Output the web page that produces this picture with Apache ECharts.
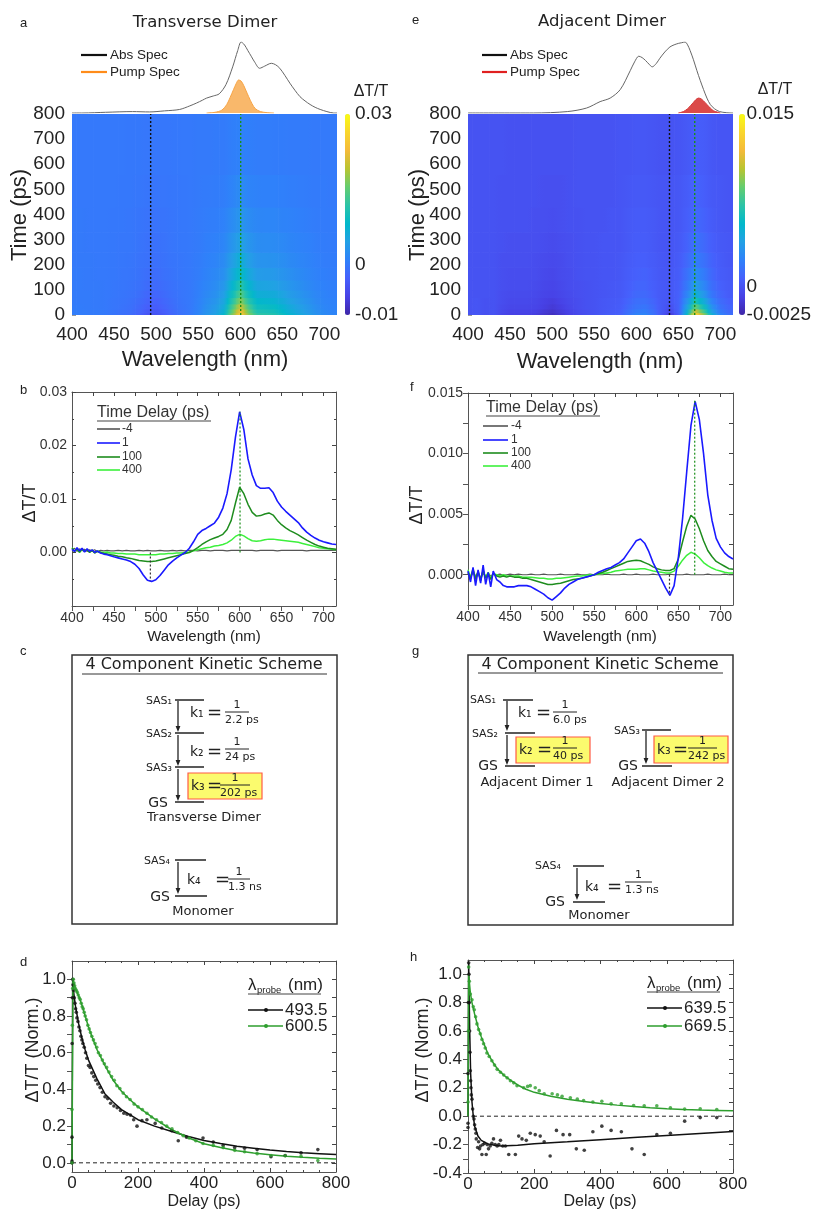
<!DOCTYPE html>
<html><head><meta charset="utf-8">
<script src="https://cdn.jsdelivr.net/npm/echarts@6/dist/echarts.min.js"></script>
<style>html,body{margin:0;padding:0;background:#fff}#c{width:814px;height:1211px}</style>
</head><body><div id="c"></div>
<script>
// ---------------- DATA ----------------
const hmWlEdges = [400,405,415,425,435,445,455,465,475,485,495,505,515,525,535,545,555,565,575,585,595,605,615,625,635,645,655,665,675,685,695,705,715];
const hmTimeEdges = [0,10,25,45,70,100,140,190,250,330,430,560,800];
const hmWlTicks = [400,450,500,550,600,650,700];
// Transverse dimer dT/T map (x1e-3), rows = time bins (bottom to top), cols = wavelength bins
const hmA = [
[0.5,0.5,0.3,0.2,0,-0.5,-1,-1.4,-2.6,-4.2,-4.4,-3.2,-1.8,-0.7,0,1.5,3.4,4.8,7.8,16.5,25,16.5,12,11.6,11,9.2,7.3,5.8,4.4,2.9,1.9,1.4],
[0.5,0.4,0.3,0.2,0,-0.4,-0.8,-1.2,-2.2,-3.6,-3.8,-2.8,-1.6,-0.6,0,1.3,3,4.3,7,15,23,15,10.6,10.3,9.8,8.2,6.5,5.2,3.9,2.6,1.7,1.3],
[0.4,0.4,0.2,0.1,0,-0.3,-0.6,-1,-1.8,-2.9,-3.1,-2.2,-1.3,-0.5,0,1.1,2.7,3.8,6.2,13.3,20.3,13.3,9.4,9.1,8.7,7.3,5.8,4.6,3.5,2.3,1.5,1.1],
[0.3,0.3,0.2,0.1,0,-0.3,-0.5,-0.8,-1.5,-2.4,-2.6,-1.9,-1.1,-0.4,0,1,2.3,3.3,5.3,11.2,17,11.2,8,7.7,7.3,6.1,4.8,3.9,2.9,1.9,1.3,1],
[0.3,0.3,0.2,0.1,0,-0.2,-0.4,-0.6,-1.2,-2,-2.1,-1.5,-0.9,-0.3,0,0.8,1.9,2.7,4.4,9.4,14.3,9.4,6.6,6.4,6.1,5.1,4,3.2,2.4,1.6,1.1,0.8],
[0.2,0.2,0.1,0.1,0,-0.2,-0.3,-0.5,-0.9,-1.5,-1.6,-1.2,-0.7,-0.3,0,0.7,1.5,2.2,3.5,7.5,11.4,7.5,5.3,5.1,4.8,4,3.2,2.6,1.9,1.3,0.9,0.7],
[0.2,0.2,0.1,0,0,-0.1,-0.3,-0.4,-0.7,-1.2,-1.3,-0.9,-0.5,-0.2,0,0.5,1.2,1.7,2.7,5.8,8.8,5.8,4.1,3.9,3.7,3.1,2.5,2,1.5,1,0.7,0.5],
[0.1,0.1,0.1,0,0,-0.1,-0.2,-0.3,-0.6,-0.9,-1,-0.7,-0.4,-0.2,0,0.4,0.9,1.3,2.1,4.4,6.8,4.4,3.1,3,2.9,2.4,1.9,1.5,1.2,0.8,0.5,0.4],
[0.1,0.1,0,0,0,-0.1,-0.2,-0.2,-0.5,-0.8,-0.8,-0.6,-0.3,-0.1,0,0.3,0.7,0.9,1.5,3.2,4.9,3.2,2.3,2.2,2.1,1.8,1.4,1.1,0.9,0.6,0.4,0.3],
[0.1,0.1,0,0,0,-0.1,-0.1,-0.2,-0.4,-0.6,-0.6,-0.5,-0.3,-0.1,0,0.2,0.5,0.6,1,2.2,3.4,2.2,1.6,1.5,1.5,1.2,1,0.8,0.6,0.4,0.3,0.2],
[0,0,0,0,0,0,-0.1,-0.1,-0.2,-0.4,-0.4,-0.3,-0.2,-0.1,0,0.1,0.3,0.4,0.6,1.3,2.1,1.3,1,0.9,0.9,0.8,0.6,0.5,0.4,0.2,0.2,0.1],
[0,0,0,0,0,0,0,-0.1,-0.1,-0.2,-0.2,-0.2,-0.1,0,0,0.1,0.1,0.2,0.3,0.7,1,0.7,0.5,0.5,0.4,0.4,0.3,0.2,0.2,0.1,0.1,0.1]
];
// Adjacent dimer dT/T map (x1e-3)
const hmE = [
[0,0.2,-0.2,0,-0.6,-0.9,-0.9,-0.9,-1.1,-1.5,-1.9,-1.4,-0.9,-0.5,-0.2,0,0.3,0.5,0.7,1.6,2.4,2.5,1.6,0.2,-1.2,0.6,5.6,13.2,9.3,4.7,2.3,1.4],
[0,0.1,-0.1,0,-0.5,-0.8,-0.8,-0.8,-0.9,-1.3,-1.6,-1.2,-0.8,-0.4,-0.2,0,0.2,0.4,0.6,1.4,2,2.1,1.4,0.3,-0.6,0.8,4.8,10.8,7.6,3.8,1.9,1.1],
[0,0.1,-0.1,0,-0.4,-0.6,-0.6,-0.6,-0.7,-1,-1.3,-1,-0.6,-0.3,-0.1,0,0.2,0.3,0.5,1.1,1.6,1.7,1.1,0.3,-0.2,0.8,4,8.5,6,3,1.5,0.9],
[0,0.1,-0.1,0,-0.3,-0.5,-0.5,-0.5,-0.6,-0.9,-1.1,-0.8,-0.5,-0.3,-0.1,0,0.2,0.3,0.4,0.9,1.4,1.4,0.9,0.3,0.1,0.8,3.2,6.5,4.6,2.3,1.2,0.7],
[0,0,0,0,-0.3,-0.4,-0.4,-0.4,-0.5,-0.7,-0.8,-0.6,-0.4,-0.2,-0.1,0,0.1,0.2,0.3,0.7,1.1,1.1,0.7,0.3,0.2,0.7,2.5,4.8,3.4,1.7,0.9,0.5],
[0,0,0,0,-0.2,-0.3,-0.3,-0.3,-0.4,-0.6,-0.7,-0.5,-0.3,-0.2,-0.1,0,0.1,0.2,0.3,0.6,0.9,0.9,0.6,0.3,0.2,0.6,1.9,3.7,2.6,1.3,0.7,0.4],
[0,0,0,0,-0.2,-0.3,-0.3,-0.3,-0.3,-0.5,-0.6,-0.4,-0.3,-0.1,0,0,0.1,0.1,0.2,0.5,0.7,0.8,0.5,0.2,0.2,0.5,1.5,2.8,2,1,0.5,0.3],
[0,0,0,0,-0.2,-0.2,-0.2,-0.2,-0.3,-0.4,-0.5,-0.4,-0.2,-0.1,0,0,0.1,0.1,0.2,0.4,0.6,0.6,0.4,0.2,0.1,0.4,1.1,2.1,1.5,0.8,0.4,0.2],
[0,0,0,0,-0.1,-0.2,-0.2,-0.2,-0.2,-0.3,-0.4,-0.3,-0.2,-0.1,0,0,0.1,0.1,0.1,0.3,0.5,0.5,0.3,0.1,0.1,0.3,0.8,1.6,1.1,0.6,0.3,0.2],
[0,0,0,0,-0.1,-0.1,-0.1,-0.1,-0.2,-0.2,-0.3,-0.2,-0.1,-0.1,0,0,0,0.1,0.1,0.3,0.4,0.4,0.3,0.1,0.1,0.2,0.6,1.1,0.8,0.4,0.2,0.1],
[0,0,0,0,-0.1,-0.1,-0.1,-0.1,-0.1,-0.2,-0.2,-0.2,-0.1,0,0,0,0,0,0.1,0.2,0.3,0.3,0.2,0.1,0.1,0.2,0.5,0.9,0.6,0.3,0.2,0.1],
[0,0,0,0,0,-0.1,-0.1,-0.1,-0.1,-0.1,-0.1,-0.1,-0.1,0,0,0,0,0,0.1,0.1,0.2,0.2,0.1,0,0,0.1,0.3,0.6,0.5,0.2,0.1,0.1]
];
const probeA = [493.5, 600.5];
const probeE = [639.5, 669.5];

// absorption / pump spectra (normalised)
const absAWl  = [400,413,440,472,492,510,528,540,548,555,560,568,575,583,591,597,601,605,609,613,617,623,629,637,642,647,653,659,665,671,677,683,689,695,703,711,715];
const absAVal = [0,0,0.01,0.02,0.015,0.03,0.05,0.1,0.14,0.18,0.21,0.24,0.27,0.4,0.65,0.88,1.0,0.96,0.88,0.8,0.72,0.63,0.66,0.70,0.68,0.63,0.53,0.42,0.32,0.23,0.17,0.12,0.08,0.05,0.02,0.0,0.0];
const pumpAWl  = [560,570,578,584,588,592,595,598,601,604,607,610,614,618,624,632,640];
const pumpAVal = [0,0.01,0.04,0.12,0.22,0.33,0.41,0.465,0.45,0.39,0.31,0.23,0.13,0.06,0.02,0.005,0];
const absEWl  = [400,478,518,541,557,569,581,593,598,603,607,611,615,619,624,628,634,640,645,650,654,658,661,664,668,672,676,680,684,688,693,699,707,715];
const absEVal = [0,0,0.02,0.07,0.16,0.21,0.33,0.6,0.72,0.8,0.78,0.74,0.69,0.65,0.7,0.77,0.86,0.93,0.96,0.98,0.99,1.0,0.96,0.88,0.75,0.6,0.46,0.33,0.21,0.12,0.06,0.02,0.005,0];
const pumpEWl  = [650,656,661,665,668,671,674,677,680,684,688,692,697,700];
const pumpEVal = [0,0.02,0.06,0.11,0.15,0.19,0.21,0.2,0.17,0.12,0.07,0.03,0.01,0];

// transient spectra (x1e-3)
const specWl = [400,403,406,409,412,415,418,421,424,427,430,434,438,442,446,450,455,460,465,470,475,480,485,490,495,500,505,510,515,520,525,530,535,540,545,550,555,560,565,570,575,580,585,590,595,600,605,610,615,620,625,630,635,640,645,650,655,660,665,670,675,680,685,690,695,700,705,710,715];
const specTicks = [400,450,500,550,600,650,700];
const delays = ['-4','1','100','400'];
const bM4  = [0.5,0.8,0.2,0.7,0.3,0.6,0.2,0.5,0.3,0.5,0.2,0.4,0.3,0.4,0.3,0.3,0.4,0.3,0.4,0.3,0.3,0.4,0.3,0.4,0.3,0.3,0.4,0.3,0.3,0.4,0.3,0.4,0.3,0.4,0.4,0.3,0.4,0.4,0.3,0.4,0.4,0.4,0.3,0.4,0.4,0.4,0.4,0.4,0.4,0.3,0.4,0.4,0.4,0.4,0.3,0.4,0.4,0.4,0.4,0.4,0.4,0.3,0.4,0.4,0.4,0.4,0.4,0.4,0.4];
const b1   = [0.6,0.2,0.9,0.3,0.8,0.1,0.7,0.2,0.5,0.0,0.3,-0.1,-0.3,-0.4,-0.6,-0.8,-1.0,-1.2,-1.4,-1.7,-2.2,-3.0,-4.2,-5.2,-5.4,-5.1,-4.3,-3.3,-2.3,-1.6,-1.0,-0.5,0.0,0.8,2.0,3.4,4.1,4.5,5.0,5.5,6.6,8.3,11.0,15.5,21.5,26.3,23.0,17.5,14.5,12.5,12.0,12.0,12.1,11.2,9.6,8.5,7.7,7.0,6.3,5.6,4.6,3.8,3.2,2.7,2.3,2.0,1.8,1.6,1.5];
const b100 = [0.8,0.3,0.6,0.1,0.7,0.2,0.5,0.0,0.4,-0.1,0.2,0.0,-0.2,-0.3,-0.4,-0.5,-0.7,-0.8,-1.0,-1.1,-1.3,-1.5,-1.6,-1.7,-1.7,-1.6,-1.4,-1.2,-1.0,-0.8,-0.6,-0.4,-0.2,0.0,0.4,0.9,1.5,2.0,2.4,2.7,3.0,3.4,4.3,6.0,9.2,12.2,11.0,9.0,7.5,6.8,6.9,7.2,7.4,7.0,6.0,5.2,4.6,4.1,3.7,3.3,2.8,2.3,1.9,1.5,1.2,1.0,0.8,0.7,0.6];
const b400 = [0.9,0.2,0.7,0.0,0.6,0.3,0.5,0.1,0.4,0.0,0.3,0.1,0.0,0.1,-0.1,-0.1,-0.2,-0.2,-0.3,-0.3,-0.3,-0.4,-0.4,-0.4,-0.4,-0.4,-0.3,-0.3,-0.2,-0.2,-0.1,-0.1,0.0,0.1,0.3,0.5,0.7,0.9,1.0,1.2,1.3,1.5,1.8,2.3,3.0,3.4,3.1,2.6,2.2,2.1,2.2,2.4,2.5,2.5,2.4,2.3,2.2,2.1,2.0,1.9,1.7,1.5,1.3,1.1,0.9,0.8,0.7,0.6,0.5];
const fM4  = [0.1,-0.2,0.2,-0.1,0.15,-0.2,0.1,-0.15,0.1,-0.1,0.05,0.0,0.05,-0.05,0.0,0.05,0.0,0.05,0.0,0.0,0.05,0.0,0.0,0.05,0.0,0.0,0.0,0.05,0.0,0.0,0.0,0.05,0.0,0.0,0.05,0.0,0.0,0.0,0.05,0.0,0.0,0.0,0.05,0.0,0.0,0.05,0.0,0.0,0.0,0.05,0.0,0.0,0.0,0.05,0.0,0.0,0.0,0.05,0.0,0.0,0.0,0.0,0.05,0.0,0.0,0.0,0.05,0.0,0.0];
const f1   = [0.3,-0.6,0.6,-0.9,0.4,-0.7,0.8,-0.8,0.2,-1.0,0.3,-0.4,-0.6,-0.9,-1.0,-1.0,-1.0,-0.9,-0.9,-0.9,-1.0,-1.2,-1.4,-1.6,-1.9,-2.1,-1.8,-1.5,-1.1,-0.8,-0.6,-0.4,-0.3,-0.2,-0.1,0.0,0.2,0.35,0.5,0.6,0.8,1.0,1.3,1.8,2.3,2.8,2.95,2.6,1.9,1.0,0.3,-0.4,-1.1,-1.7,-0.9,1.4,4.6,8.5,12.3,14.3,12.8,10.0,6.6,4.5,3.0,2.3,1.8,1.5,1.3];
const f100 = [0.2,-0.3,0.4,-0.4,0.3,-0.5,0.4,-0.3,0.1,-0.4,0.1,-0.1,-0.2,-0.1,-0.2,-0.1,-0.2,-0.2,-0.3,-0.3,-0.4,-0.5,-0.6,-0.7,-0.8,-0.8,-0.75,-0.7,-0.6,-0.5,-0.4,-0.35,-0.3,-0.2,-0.1,0.0,0.1,0.2,0.35,0.5,0.65,0.8,0.95,1.1,1.15,1.2,1.15,1.0,0.85,0.65,0.5,0.4,0.35,0.35,0.5,1.3,2.7,4.0,4.9,4.6,3.8,2.8,2.0,1.5,1.1,0.9,0.7,0.5,0.45];
const f400 = [0.4,-0.2,0.5,-0.3,0.2,-0.4,0.3,-0.2,0.2,-0.3,0.1,0.0,-0.1,0.0,-0.1,-0.1,-0.1,-0.1,-0.2,-0.2,-0.2,-0.25,-0.3,-0.3,-0.35,-0.35,-0.3,-0.3,-0.25,-0.2,-0.15,-0.1,-0.1,-0.05,0.0,0.0,0.05,0.1,0.15,0.2,0.3,0.35,0.4,0.45,0.45,0.45,0.5,0.5,0.4,0.3,0.25,0.2,0.15,0.15,0.3,0.7,1.2,1.6,1.85,1.7,1.4,1.0,0.75,0.55,0.4,0.3,0.2,0.15,0.15];
const bMarkEnds = [-5.3, 26.3];
const fMarkEnds = [-1.7, 14.4];

// kinetics (t ps, normalised dT/T)
const dBlackDots = [[0,0.0],[0,0.01],[0,0.14],[0.4,0.65],[1,0.9],[2,1.0],[3,0.97],[5,0.94],[7,0.9],[9,0.87],[11,0.84],[13,0.82],[15,0.79],[18,0.77],[21,0.74],[24,0.72],[27,0.69],[30,0.67],[33,0.65],[37,0.63],[41,0.6],[45,0.57],[50,0.53],[55,0.52],[60,0.49],[66,0.47],[72,0.45],[78,0.43],[85,0.41],[92,0.385],[100,0.36],[108,0.35],[117,0.325],[127,0.31],[137,0.3],[147,0.285],[157,0.27],[167,0.265],[177,0.26],[187,0.235],[197,0.2],[212,0.23],[227,0.235],[252,0.215],[272,0.19],[302,0.175],[322,0.12],[347,0.14],[397,0.135],[428,0.113],[458,0.094],[493,0.083],[523,0.08],[561,0.072],[603,0.033],[646,0.04],[694,0.054],[745,0.072]];
const dBlackFit = [[0,0],[2,1.0],[5,0.93],[10,0.86],[20,0.76],[30,0.68],[40,0.615],[50,0.56],[75,0.46],[100,0.375],[125,0.33],[150,0.29],[200,0.235],[250,0.2],[300,0.172],[350,0.145],[400,0.122],[450,0.105],[500,0.09],[550,0.08],[600,0.07],[650,0.062],[700,0.055],[750,0.05],[800,0.045]];
const dGreenDots = [[0,0.0],[0,0.29],[1,0.75],[2,0.95],[4,1.0],[6,0.98],[8,0.965],[10,0.95],[13,0.94],[16,0.93],[19,0.915],[22,0.9],[25,0.89],[28,0.87],[31,0.85],[34,0.84],[37,0.82],[40,0.8],[44,0.78],[48,0.75],[52,0.73],[56,0.71],[60,0.69],[65,0.67],[70,0.65],[75,0.63],[80,0.6],[86,0.585],[92,0.56],[98,0.54],[105,0.52],[112,0.495],[120,0.47],[128,0.45],[136,0.42],[145,0.405],[155,0.38],[165,0.36],[176,0.345],[188,0.32],[200,0.305],[213,0.29],[227,0.27],[241,0.25],[256,0.235],[271,0.22],[287,0.2],[303,0.185],[320,0.165],[337,0.148],[355,0.135],[375,0.12],[397,0.105],[428,0.095],[458,0.083],[493,0.068],[523,0.06],[561,0.05],[603,0.04],[646,0.038],[694,0.035],[745,0.012]];
const dGreenFit = [[0,0],[3,1.0],[10,0.95],[20,0.91],[30,0.86],[40,0.8],[50,0.74],[60,0.69],[75,0.62],[100,0.53],[125,0.45],[150,0.39],[175,0.345],[200,0.305],[250,0.24],[300,0.183],[350,0.138],[400,0.104],[450,0.083],[500,0.066],[550,0.054],[600,0.044],[650,0.036],[700,0.03],[750,0.025],[800,0.021]];
const hBlackDots = [[0,-0.05],[0,-0.08],[0,0.3],[1,0.8],[2,1.08],[3,1.0],[4,0.8],[5,0.6],[6,0.45],[7,0.32],[8,0.25],[9,0.2],[10,0.15],[12,0.12],[14,0.05],[16,0.0],[18,-0.02],[20,-0.06],[22,-0.09],[24,-0.12],[25,-0.16],[29,-0.22],[32,-0.18],[35,-0.23],[38,-0.21],[42,-0.27],[45,-0.2],[50,-0.19],[55,-0.27],[58,-0.2],[62,-0.23],[67,-0.21],[72,-0.19],[77,-0.16],[82,-0.2],[88,-0.21],[93,-0.2],[98,-0.17],[105,-0.21],[113,-0.21],[123,-0.27],[143,-0.27],[153,-0.14],[163,-0.16],[176,-0.17],[188,-0.12],[203,-0.13],[218,-0.14],[230,-0.18],[248,-0.28],[267,-0.1],[287,-0.13],[307,-0.13],[327,-0.23],[351,-0.24],[377,-0.11],[404,-0.07],[432,-0.1],[463,-0.11],[495,-0.23],[532,-0.27],[570,-0.13],[611,-0.12],[654,-0.035],[701,-0.01],[751,-0.01]];
const hBlackFit = [[0,0],[2,1.08],[5,0.62],[8,0.3],[12,0.1],[16,0.0],[20,-0.07],[30,-0.14],[40,-0.17],[60,-0.195],[80,-0.205],[100,-0.21],[150,-0.205],[200,-0.194],[300,-0.18],[400,-0.165],[500,-0.15],[600,-0.136],[700,-0.122],[800,-0.108]];
const hGreenDots = [[0,0.1],[1,0.6],[2,1.05],[4,0.95],[7,0.86],[12,0.82],[16,0.77],[19,0.75],[23,0.7],[27,0.65],[32,0.61],[37,0.58],[42,0.54],[47,0.51],[52,0.48],[57,0.445],[64,0.42],[72,0.39],[80,0.36],[88,0.33],[98,0.31],[108,0.29],[118,0.27],[128,0.25],[138,0.235],[148,0.215],[168,0.2],[180,0.21],[188,0.215],[203,0.2],[215,0.18],[230,0.158],[254,0.158],[270,0.15],[284,0.14],[309,0.13],[330,0.12],[349,0.11],[377,0.1],[404,0.105],[432,0.087],[463,0.087],[500,0.075],[532,0.073],[570,0.073],[611,0.06],[654,0.05],[701,0.052],[751,0.047]];
const hGreenFit = [[0,0],[2,1.0],[7,0.87],[12,0.8],[20,0.72],[30,0.63],[40,0.56],[50,0.5],[60,0.44],[75,0.38],[90,0.33],[110,0.285],[130,0.25],[150,0.22],[175,0.19],[200,0.168],[250,0.14],[300,0.12],[350,0.103],[400,0.09],[450,0.078],[500,0.068],[550,0.06],[600,0.053],[650,0.048],[700,0.044],[750,0.041],[800,0.038]];
const dProbe = ['493.5','600.5'];
const hProbe = ['639.5','669.5'];

// ---------------- STYLE ----------------
const FF = 'Liberation Sans, Arial, sans-serif';
const SF = 'DejaVu Sans, Verdana, sans-serif';
const parula = ['#3e26a8','#4741e5','#4660fc','#2f81fa','#23a0e5','#01b8ca','#2cc4a7','#64cd6f','#b9c431','#f4ba3a','#f9d62d','#f9fb15'];
const cDelay = ['#555555','#1a1aff','#1e8c1e','#3cf03c'];
const cKinGreen = '#2e9e2e';
const zip = (xs, ys, s=1) => xs.map((x,i)=>[x, ys[i]*s]);

// colour lookup matching the visualMap colour ramp (used for smooth in-cell gradients)
const parRGB = parula.map(h=>[parseInt(h.slice(1,3),16),parseInt(h.slice(3,5),16),parseInt(h.slice(5,7),16)]);
function rampColor(v,min,max){
  let f=(v-min)/(max-min); f=Math.max(0,Math.min(1,f));
  const p=f*(parRGB.length-1), i=Math.min(parRGB.length-2,Math.floor(p)), t=p-i;
  const c=parRGB[i].map((a,k)=>Math.round(a+(parRGB[i+1][k]-a)*t));
  return 'rgb('+c.join(',')+')';
}

// ---------------- AXES ----------------
const grids=[], xAxis=[], yAxis=[], series=[];
function grid(l,t,w,h){ grids.push({left:l,top:t,width:w,height:h}); return grids.length-1; }
const tickStyle = {color:'#444', width:1};
function frameAxes(g, xo, yo){
  const xi = xAxis.length;
  xAxis.push(Object.assign({type:'value', gridIndex:g, position:'bottom', splitLine:{show:false},
    axisLine:{show:true, onZero:false, lineStyle:{color:'#555',width:1}},
    axisTick:{inside:true,length:4,lineStyle:tickStyle}},xo));
  xAxis.push({type:'value', gridIndex:g, position:'top', min:xo.min, max:xo.max, interval:xo.interval, splitLine:{show:false},
    axisLine:{show:true, onZero:false, lineStyle:{color:'#555',width:1}}, axisLabel:{show:false},
    axisTick:Object.assign({}, xo.axisTick||{}, {inside:true,length:4,lineStyle:tickStyle}), minorTick: xo.minorTick});
  const yi = yAxis.length;
  yAxis.push(Object.assign({type:'value', gridIndex:g, position:'left', splitLine:{show:false},
    axisLine:{show:true, onZero:false, lineStyle:{color:'#555',width:1}},
    axisTick:{inside:true,length:4,lineStyle:tickStyle}},yo));
  yAxis.push({type:'value', gridIndex:g, position:'right', min:yo.min, max:yo.max, interval:yo.interval, splitLine:{show:false},
    axisLine:{show:true, onZero:false, lineStyle:{color:'#555',width:1}}, axisLabel:{show:false},
    axisTick:Object.assign({}, yo.axisTick||{}, {inside:true,length:4,lineStyle:tickStyle}), minorTick: yo.minorTick});
  return [xi, yi];
}
function hiddenAxes(g, xmin, xmax, ymin, ymax){
  const xi=xAxis.length, yi=yAxis.length;
  xAxis.push({type:'value', gridIndex:g, min:xmin, max:xmax, show:false});
  yAxis.push({type:'value', gridIndex:g, min:ymin, max:ymax, show:false});
  return [xi, yi];
}
function hmAxes(g){
  const xi=xAxis.length, yi=yAxis.length;
  xAxis.push({type:'value', gridIndex:g, min:400, max:715, splitLine:{show:false}, axisLine:{show:false},
    axisTick:{inside:true,length:4,customValues:hmWlTicks,lineStyle:{color:'rgba(0,0,0,0.4)'}},
    axisLabel:{customValues:hmWlTicks, fontSize:19, color:'#222', fontFamily:FF, margin:10}});
  yAxis.push({type:'value', gridIndex:g, min:0, max:800, interval:100, splitLine:{show:false}, axisLine:{show:false},
    axisTick:{inside:true,length:4,lineStyle:{color:'rgba(0,0,0,0.4)'}},
    axisLabel:{fontSize:19, color:'#222', fontFamily:FF, margin:7}});
  return [xi, yi];
}
function cbAxes(g, min, max, vals, labs){
  const xi=xAxis.length, yi=yAxis.length;
  xAxis.push({type:'value', gridIndex:g, min:0, max:1, show:false});
  yAxis.push({type:'value', gridIndex:g, position:'right', min, max, splitLine:{show:false}, axisLine:{show:false}, axisTick:{show:false},
    axisLabel:{customValues:vals, formatter:v=>labs[vals.indexOf(v)], fontSize:19, color:'#222', fontFamily:FF, margin:5}});
  return [xi, yi];
}

// ---------------- GRIDS ----------------
const gHmA = grid(72,114,265,201), gAbsA = grid(72,42,265,71), gCbA = grid(345,114,5,201);
const gB = grid(72,392,264,214), gD = grid(72,961,264,211);
const gHmE = grid(468,114,265,201), gAbsE = grid(468,42,265,71), gCbE = grid(739,114,6,201);
const gF = grid(468,393,265,212), gH = grid(468,960,265,213);

const axHmA = hmAxes(gHmA), axAbsA = hiddenAxes(gAbsA,400,715,0,1);
const axCbA = cbAxes(gCbA,-10,30,[-10,0,30],['-0.01','0','0.03']);
const axHmE = hmAxes(gHmE), axAbsE = hiddenAxes(gAbsE,400,715,0,1);
const axCbE = cbAxes(gCbE,-2.5,15,[-2.5,0,15],['-0.0025','0','0.015']);

const specLab = {fontSize:14, color:'#333', fontFamily:FF, margin:5};
const specMinor = [400,425,450,475,500,525,550,575,600,625,650,675,700];
const axB = frameAxes(gB,
  {min:400,max:715, axisLabel:Object.assign({customValues:specTicks},specLab), axisTick:{customValues:specMinor}},
  {min:-0.01,max:0.03,interval:0.01, minorTick:{show:true,splitNumber:2,length:2,lineStyle:tickStyle},
   axisLabel:Object.assign({formatter:v=> v<-0.001?'':v.toFixed(2)},specLab)});
const axF = frameAxes(gF,
  {min:400,max:715, axisLabel:Object.assign({customValues:specTicks},specLab), axisTick:{customValues:specMinor}},
  {min:-0.0025,max:0.015, axisLabel:Object.assign({customValues:[0,0.005,0.01,0.015],formatter:v=>v.toFixed(3)},specLab),
   axisTick:{customValues:[0,0.0025,0.005,0.0075,0.01,0.0125,0.015]}});
const kinLab = {fontSize:17, color:'#222', fontFamily:FF};
const axD = frameAxes(gD,
  {min:0,max:800,interval:200, minorTick:{show:true,splitNumber:4,length:2,lineStyle:tickStyle}, axisLabel:Object.assign({margin:3},kinLab)},
  {min:-0.05,max:1.1, axisLabel:Object.assign({customValues:[0,0.2,0.4,0.6,0.8,1.0],formatter:v=>v.toFixed(1),margin:6},kinLab),
   axisTick:{customValues:[0,0.1,0.2,0.3,0.4,0.5,0.6,0.7,0.8,0.9,1.0]}});
const axH = frameAxes(gH,
  {min:0,max:800,interval:200, minorTick:{show:true,splitNumber:4,length:2,lineStyle:tickStyle}, axisLabel:Object.assign({margin:3},kinLab)},
  {min:-0.4,max:1.1, axisLabel:Object.assign({customValues:[-0.4,-0.2,0,0.2,0.4,0.6,0.8,1.0],formatter:v=>v.toFixed(1),margin:6},kinLab),
   axisTick:{customValues:[-0.4,-0.3,-0.2,-0.1,0,0.1,0.2,0.3,0.4,0.5,0.6,0.7,0.8,0.9,1.0]}});

// ---------------- SERIES ----------------
function hmData(rows){ const d=[]; rows.forEach((r,j)=>r.forEach((v,i)=>d.push([hmWlEdges[i],hmWlEdges[i+1],hmTimeEdges[j],hmTimeEdges[j+1],v,i,j]))); return d; }
function hmSeries(ax, rows, vmin, vmax){
  series.push({type:'custom', xAxisIndex:ax[0], yAxisIndex:ax[1], data:hmData(rows), encode:{x:[0,1],y:[2,3]}, silent:true, clip:true, z:1,
    renderItem:(p,api)=>{
      const a=api.coord([api.value(0),api.value(2)]), b=api.coord([api.value(1),api.value(3)]);
      const v=api.value(4), i=api.value(5), j=api.value(6), row=rows[j];
      const vl = i>0 ? (row[i-1]+v)/2 : v, vr = i<row.length-1 ? (row[i+1]+v)/2 : v;
      const fill = new echarts.graphic.LinearGradient(0,0,1,0,[
        {offset:0,color:rampColor(vl,vmin,vmax)},{offset:0.5,color:rampColor(v,vmin,vmax)},{offset:1,color:rampColor(vr,vmin,vmax)}]);
      return {type:'rect', shape:{x:a[0], y:b[1], width:b[0]-a[0]+0.7, height:a[1]-b[1]+0.7}, style:{fill}}; }});
  return series.length-1;
}
function line(ax, data, color, width, extra={}){
  series.push(Object.assign({type:'line', xAxisIndex:ax[0], yAxisIndex:ax[1], data, showSymbol:false, symbol:'none', silent:true, clip:true,
    lineStyle:{color, width}, itemStyle:{color}, z:3}, extra));
}
function dots(ax, data, color){
  series.push({type:'scatter', xAxisIndex:ax[0], yAxisIndex:ax[1], data, symbol:'circle', symbolSize:3.6, itemStyle:{color}, silent:true, clip:true, z:4});
}
const dotted = (c,w)=>({lineStyle:{color:c,width:w,type:[2,2]}, z:5});
const sHmA = hmSeries(axHmA, hmA, -10, 30);
line(axHmA, [[probeA[0],0],[probeA[0],800]], '#111', 1.4, dotted('#111',1.4));
line(axHmA, [[probeA[1],0],[probeA[1],800]], '#1a8f1a', 1.4, dotted('#1a8f1a',1.4));
line(axAbsA, zip(absAWl,absAVal), '#666', 1, {smooth:0.3});
line(axAbsA, zip(pumpAWl,pumpAVal), '#f6a445', 1, {smooth:0.3, areaStyle:{color:'#f9b463', opacity:0.95}});

const sHmE = hmSeries(axHmE, hmE, -2.5, 15);
line(axHmE, [[probeE[0],0],[probeE[0],800]], '#111', 1.4, dotted('#111',1.4));
line(axHmE, [[probeE[1],0],[probeE[1],800]], '#1a8f1a', 1.4, dotted('#1a8f1a',1.4));
line(axAbsE, zip(absEWl,absEVal), '#666', 1, {smooth:0.3});
line(axAbsE, zip(pumpEWl,pumpEVal), '#d63a3a', 1, {smooth:0.3, areaStyle:{color:'#d9403f', opacity:0.95}});

line(axB, zip(specWl,bM4,1e-3), cDelay[0], 1.1);
line(axB, zip(specWl,b400,1e-3), cDelay[3], 1.5);
line(axB, zip(specWl,b100,1e-3), cDelay[2], 1.5);
line(axB, zip(specWl,b1,1e-3), cDelay[1], 1.6);
line(axB, [[probeA[0],0],[probeA[0],bMarkEnds[0]*1e-3]], '#333', 1.2, dotted('#333',1.2));
line(axB, [[probeA[1],0],[probeA[1],bMarkEnds[1]*1e-3]], '#1a8f1a', 1.2, dotted('#1a8f1a',1.2));
line(axF, zip(specWl,fM4,1e-3), cDelay[0], 1.1);
line(axF, zip(specWl,f400,1e-3), cDelay[3], 1.5);
line(axF, zip(specWl,f100,1e-3), cDelay[2], 1.5);
line(axF, zip(specWl,f1,1e-3), cDelay[1], 1.6);
line(axF, [[probeE[0],0],[probeE[0],fMarkEnds[0]*1e-3]], '#333', 1.2, dotted('#333',1.2));
line(axF, [[probeE[1],0],[probeE[1],fMarkEnds[1]*1e-3]], '#1a8f1a', 1.2, dotted('#1a8f1a',1.2));

line(axD, [[0,0],[800,0]], '#222', 1, {lineStyle:{color:'#222',width:1,type:[4,3]}});
dots(axD, dBlackDots, '#111');
dots(axD, dGreenDots, cKinGreen);
line(axD, dBlackFit, '#111', 1.5);
line(axD, dGreenFit, cKinGreen, 1.5);
line(axH, [[15,0],[800,0]], '#222', 1, {lineStyle:{color:'#222',width:1,type:[4,3]}});
dots(axH, hBlackDots, '#111');
dots(axH, hGreenDots, cKinGreen);
line(axH, hBlackFit, '#111', 1.5);
line(axH, hGreenFit, cKinGreen, 1.5);
line(axCbA, [], '#000', 1);
line(axCbE, [], '#000', 1);

// ---------------- GRAPHIC ----------------
const G=[];
function T(x,y,text,size,o={}){ G.push({type:'text', x, y, rotation:o.rot||0, z:100, silent:true,
  style:{text, fontSize:size, fontFamily:o.ff||FF, fill:o.c||'#222', align:o.a||'left', verticalAlign:'middle'}}); }
function L(x1,y1,x2,y2,c='#222',w=1){ G.push({type:'line', z:100, silent:true, shape:{x1,y1,x2,y2}, style:{stroke:c, lineWidth:w}}); }
function R(x,y,w,h,fill,stroke,lw){ G.push({type:'rect', z:99, silent:true, shape:{x,y,width:w,height:h}, style:{fill, stroke, lineWidth:lw}}); }
function DOT(x,y,r,c){ G.push({type:'circle', z:101, silent:true, shape:{cx:x,cy:y,r}, style:{fill:c}}); }
function ARW(x,y1,y2){ L(x,y1,x,y2-5,'#222',1.3); G.push({type:'polygon', z:100, silent:true, shape:{points:[[x-2.4,y2-6],[x+2.4,y2-6],[x,y2]]}, style:{fill:'#222'}}); }

T(20,23,'a',13); T(412,20,'e',13); T(20,390,'b',13); T(410,387,'f',13);
T(20,651,'c',13); T(412,651,'g',13); T(20,962,'d',13); T(410,957,'h',13);
T(205,23,'Transverse Dimer',16.5,{a:'center',ff:SF}); T(602,22,'Adjacent Dimer',16.5,{a:'center',ff:SF});
L(81,55,107,55,'#111',2.2); T(110,55,'Abs Spec',13.5); L(81,72,107,72,'#ff8c1a',2.2); T(110,72,'Pump Spec',13.5);
L(482,55,507,55,'#111',2.2); T(510,55,'Abs Spec',13.5); L(482,72,507,72,'#e02020',2.2); T(510,72,'Pump Spec',13.5);
T(371,92,'ΔT/T',16,{a:'center'}); T(775,90,'ΔT/T',16,{a:'center'});
T(20,215,'Time (ps)',22,{a:'center',rot:Math.PI/2}); T(205,360,'Wavelength (nm)',22,{a:'center'});
T(418,215,'Time (ps)',22,{a:'center',rot:Math.PI/2}); T(600,362,'Wavelength (nm)',22,{a:'center'});
T(30,503,'ΔT/T',18,{a:'center',rot:Math.PI/2}); T(204,637,'Wavelength (nm)',15,{a:'center'});
T(417,505,'ΔT/T',18,{a:'center',rot:Math.PI/2}); T(600,637,'Wavelength (nm)',15,{a:'center'});
T(33,1050,'ΔT/T (Norm.)',18,{a:'center',rot:Math.PI/2}); T(204,1202,'Delay (ps)',16,{a:'center'});
T(423,1050,'ΔT/T (Norm.)',18,{a:'center',rot:Math.PI/2}); T(600,1202,'Delay (ps)',16,{a:'center'});
function specLegend(x0,y0,lx0,lx1,tx,ys){
  T(x0,y0,'Time Delay (ps)',16,{c:'#333'}); L(x0,y0+8,x0+114,y0+8,'#444',1.2);
  delays.forEach((d,i)=>{ L(lx0,ys[i],lx1,ys[i],cDelay[i],1.6); T(tx,ys[i],d,12,{c:'#333'}); });
}
specLegend(97,413,97,120,122,[429,443,457,470]);
specLegend(486,408,483,508,511,[426,440,453,466]);
function kinLegend(x0,y0,ys,labels){
  T(x0,y0,'λ',17); T(x0+9,y0+5,'probe',9.5); T(x0+40,y0,'(nm)',17); L(x0,y0+9,x0+73,y0+9,'#444',1);
  const cols=['#111',cKinGreen];
  ys.forEach((y,i)=>{ L(x0,y,x0+35,y,cols[i],1.5); DOT(x0+18,y,2,cols[i]); T(x0+37,y,labels[i],17); });
}
kinLegend(248,985,[1010,1026],dProbe);
kinLegend(647,983,[1008,1026],hProbe);

function kBox(x,y,w,h){ R(x,y,w,h,'#fbfb6e','#ff5b45',1.2); }
function kRate(kx,ky,sub,ex,fx,fy,fw,num,den){
  T(kx,ky,'k'+sub,14,{ff:SF}); T(ex,ky,'=',18,{ff:SF});
  T(fx+fw/2,fy-7,num,11,{a:'center',ff:SF}); L(fx,fy,fx+fw,fy,'#222',1); T(fx,fy+8,den,11,{ff:SF});
}
R(72,655,265,269,'rgba(0,0,0,0)','#333',1.5);
T(204,665,'4 Component Kinetic Scheme',16,{a:'center',ff:SF}); L(82,674,327,674,'#333',1);
T(172,701,'SAS₁',11,{a:'right',ff:SF}); L(175,700,204,700,'#222',1.5); ARW(178,701,732);
kRate(190,713,'₁',207,225,712,24,'1','2.2 ps');
T(172,734,'SAS₂',11,{a:'right',ff:SF}); L(175,733,204,733,'#222',1.5); ARW(178,735,766);
kRate(190,752,'₂',207,225,749,24,'1','24 ps');
T(172,768,'SAS₃',11,{a:'right',ff:SF}); L(175,767,204,767,'#222',1.5); ARW(178,769,801);
kBox(188,773,74,26); kRate(191,786,'₃',207,220,785,30,'1','202 ps');
T(168,803,'GS',14,{a:'right',ff:SF}); L(175,802,204,802,'#222',1.5);
T(204,818,'Transverse Dimer',13,{a:'center',ff:SF});
T(170,861,'SAS₄',11,{a:'right',ff:SF}); L(175,860,206,860,'#222',1.5); ARW(178,862,894);
kRate(187,880,'₄',215,228,879,22,'1','1.3 ns');
T(170,897,'GS',14,{a:'right',ff:SF}); L(175,896,207,896,'#222',1.5);
T(203,912,'Monomer',13,{a:'center',ff:SF});
R(468,655,265,270,'rgba(0,0,0,0)','#333',1.5);
T(600,665,'4 Component Kinetic Scheme',16,{a:'center',ff:SF}); L(478,673,723,673,'#333',1);
T(496,700,'SAS₁',11,{a:'right',ff:SF}); L(503,700,533,700,'#222',1.5); ARW(507,701,731);
kRate(518,713,'₁',536,553,712,24,'1','6.0 ps');
T(498,734,'SAS₂',11,{a:'right',ff:SF}); L(505,733,535,733,'#222',1.5); ARW(507,735,765);
kBox(516,737,74,26); kRate(519,750,'₂',537,553,748,24,'1','40 ps');
T(498,766,'GS',14,{a:'right',ff:SF}); L(505,766,535,766,'#222',1.5);
T(537,783,'Adjacent Dimer 1',13,{a:'center',ff:SF});
T(640,731,'SAS₃',11,{a:'right',ff:SF}); L(642,730,671,730,'#222',1.5); ARW(646,731,764);
kBox(654,736,74,27); kRate(657,750,'₃',673,688,748,29,'1','242 ps');
T(638,766,'GS',14,{a:'right',ff:SF}); L(642,766,672,766,'#222',1.5);
T(668,783,'Adjacent Dimer 2',13,{a:'center',ff:SF});
T(561,866,'SAS₄',11,{a:'right',ff:SF}); L(573,866,604,866,'#222',1.5); ARW(577,868,900);
kRate(585,887,'₄',607,625,882,27,'1','1.3 ns');
T(565,902,'GS',14,{a:'right',ff:SF}); L(573,902,605,902,'#222',1.5);
T(599,916,'Monomer',13,{a:'center',ff:SF});

// ---------------- CHART ----------------
const chart = echarts.init(document.getElementById('c'), null, {width:814, height:1211});
chart.setOption({
  animation:false,
  backgroundColor:'#fff',
  textStyle:{fontFamily:FF},
  grid:grids, xAxis, yAxis, series,
  visualMap:[
    {type:'continuous', seriesIndex:sHmA, dimension:4, min:-10, max:30, inRange:{color:parula}, show:true, calculable:false, hoverLink:false,
     left:345, top:114, itemWidth:5, itemHeight:201, padding:0, orient:'vertical'},
    {type:'continuous', seriesIndex:sHmE, dimension:4, min:-2.5, max:15, inRange:{color:parula}, show:true, calculable:false, hoverLink:false,
     left:739, top:114, itemWidth:6, itemHeight:201, padding:0, orient:'vertical'}
  ],
  graphic:G
});
</script></body></html>
